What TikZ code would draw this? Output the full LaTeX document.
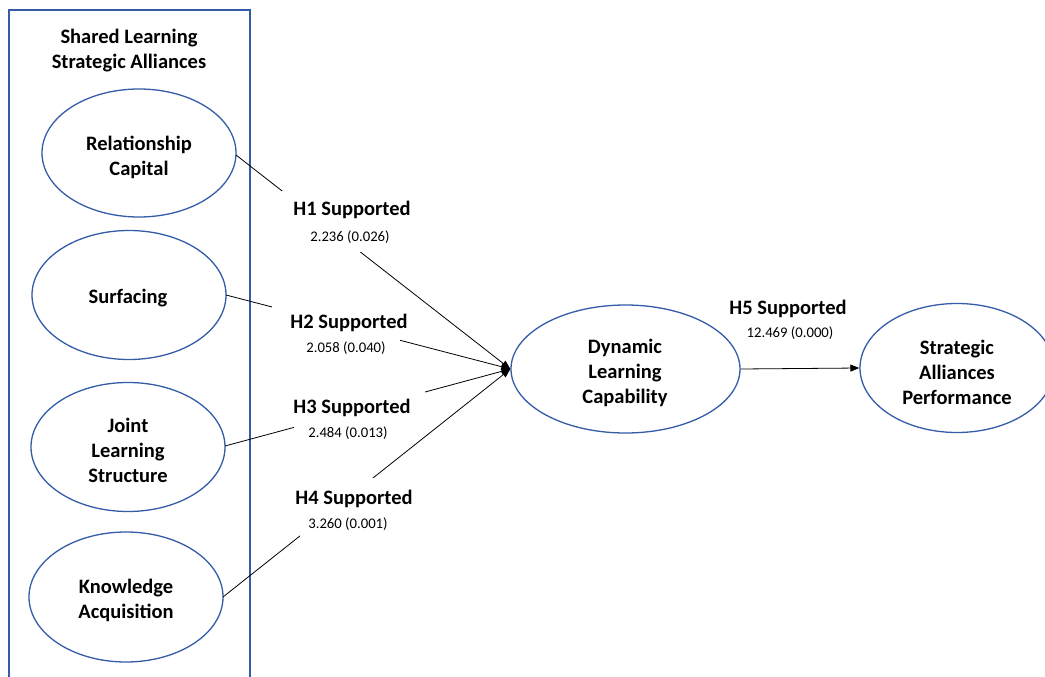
\documentclass[tikz,border=0pt]{standalone}
\usepackage{fontspec}
\setmainfont{Carlito}
\usetikzlibrary{shapes.geometric,arrows.meta}
\definecolor{eblue}{RGB}{52,92,168}
\begin{document}
\begin{tikzpicture}[x=1pt,y=-1pt,
  ell/.style={ellipse,draw=eblue,line width=1.3pt,inner sep=0pt},
  etxt/.style={inner sep=0pt,align=center,font=\fontsize{20.5}{25}\selectfont\bfseries},
  hyp/.style={anchor=base,inner sep=0pt,font=\fontsize{20.5}{25}\selectfont\bfseries},
  val/.style={anchor=base,inner sep=0pt,font=\fontsize{14.7}{18}\selectfont},
  mask/.style={fill=white,draw=none,inner sep=0pt},
  conn/.style={line width=0.8pt,-{Triangle[length=9pt,width=7pt]}}]
\clip (0,0) rectangle (1045,677);
\fill[white] (0,0) rectangle (1045,677);
% group box
\node[draw=eblue,line width=1.3pt,minimum width=241pt,minimum height=700pt,inner sep=0pt] (grp) at (129.5,360) {};
\node[etxt] (title) at (129,51) {Shared Learning\\Strategic Alliances};
% ellipses
\node[ell,minimum width=194pt,minimum height=128pt] (rc) at (139,153) {};
\node[ell,minimum width=194pt,minimum height=129pt] (sf) at (129,295) {};
\node[ell,minimum width=194pt,minimum height=129pt] (jl) at (128,447) {};
\node[ell,minimum width=194pt,minimum height=130pt] (ka) at (126,597) {};
\node[ell,minimum width=229pt,minimum height=128pt] (dlc) at (625.5,369) {};
\node[ell,minimum width=194pt,minimum height=129pt] (sap) at (957,368) {};
\node[etxt] (rct) at (139,157) {Relationship\\Capital};
\node[etxt] (sft) at (128,298) {Surfacing};
\node[etxt] (jlt) at (128,450) {Joint\\Learning\\Structure};
\node[etxt] (kat) at (126,600) {Knowledge\\Acquisition};
\node[etxt] (dlct) at (625,373) {Dynamic\\Learning\\Capability};
\node[etxt] (sapt) at (957,372) {Strategic\\Alliances\\Performance};
% connector end points on the ellipses
\coordinate (rcE) at (236,155);
\coordinate (sfE) at (226,295);
\coordinate (jlE) at (225,446);
\coordinate (kaE) at (223,597);
\draw[conn] (rcE) -- (dlc.west);
\draw[conn] (sfE) -- (dlc.west);
\draw[conn] (jlE) -- (dlc.west);
\draw[conn] (kaE) -- (dlc.west);
\draw[conn] (dlc.east) -- (sap.west);
% label masks
\node[mask,minimum width=142pt,minimum height=61pt] (m1) at (353,221.5) {};
\node[mask,minimum width=128pt,minimum height=60pt] (m2) at (336,330) {};
\node[mask,minimum width=131pt,minimum height=51pt] (m3) at (359.5,410.5) {};
\node[mask,minimum width=120pt,minimum height=62pt] (m4) at (360,509) {};
% labels
\node[hyp] (h1) at (352,215.5) {H1 Supported};
\node[val] (v1) at (350,241.7) {2.236 (0.026)};
\node[hyp] (h2) at (349,328.5) {H2 Supported};
\node[val] (v2) at (346,352.7) {2.058 (0.040)};
\node[hyp] (h3) at (352,413.5) {H3 Supported};
\node[val] (v3) at (348,437.7) {2.484 (0.013)};
\node[hyp] (h4) at (354,504.5) {H4 Supported};
\node[val] (v4) at (348,528.7) {3.260 (0.001)};
\node[hyp] (h5) at (788,314.5) {H5 Supported};
\node[val] (v5) at (790,337.7) {12.469 (0.000)};
\end{tikzpicture}
\end{document}
